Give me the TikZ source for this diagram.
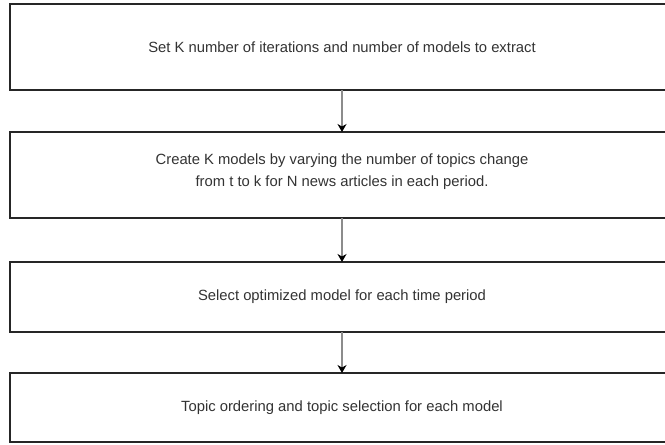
\documentclass[tikz,border=0pt]{standalone}
\usepackage{fontspec}
\setmainfont{Liberation Sans}
\usetikzlibrary{arrows.meta}
\begin{document}
\begin{tikzpicture}[x=1pt,y=-1pt,
  stepbox/.style={draw=black!85,line width=1.3pt,fill=white,inner sep=0pt},
  lbl/.style={font=\fontsize{14.8}{22}\selectfont,text=black!80,align=center},
  conn/.style={draw=black!45,line width=1.1pt,-{Stealth[length=8pt,width=9pt,inset=2.5pt,black]}}]
\useasboundingbox (0,0) rectangle (665,445);
\clip (0,0) rectangle (665,445);
\path[stepbox] (10,4) rectangle (672,90);
\path[stepbox] (10,132) rectangle (672,218);
\path[stepbox] (10,262) rectangle (672,332);
\path[stepbox] (10,373) rectangle (672,442);
\node[lbl] (t1) at (342,47) {Set K number of iterations and number of models to extract};
\node[lbl] (t2) at (342,172) {Create K models by varying the number of topics change\\from t to k for N news articles in each period.};
\node[lbl] (t3) at (342,297) {Select optimized model for each time period};
\node[lbl] (t4) at (342,408) {Topic ordering and topic selection for each model};
\coordinate (a1) at (342,90); \coordinate (b1) at (342,132);
\coordinate (a2) at (342,218); \coordinate (b2) at (342,262);
\coordinate (a3) at (342,332); \coordinate (b3) at (342,373);
\draw[conn] (a1) -- (b1);
\draw[conn] (a2) -- (b2);
\draw[conn] (a3) -- (b3);
\end{tikzpicture}
\end{document}
